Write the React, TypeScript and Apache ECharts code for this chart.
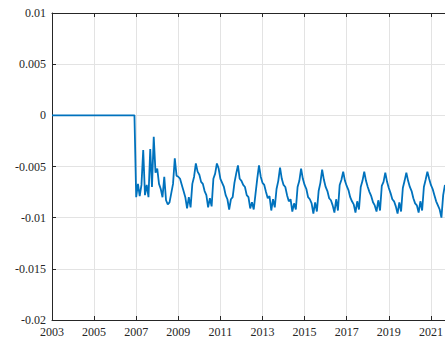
import React, { useEffect, useRef } from "react";
import * as echarts from "echarts";

const startYear = 2003;
const xTicks = [2003, 2005, 2007, 2009, 2011, 2013, 2015, 2017, 2019, 2021];
const yTicks = [-0.02, -0.015, -0.01, -0.005, 0, 0.005, 0.01];

// monthly values, Jan..Dec for each year
const v2003 = [0, 0, 0, 0, 0, 0, 0, 0, 0, 0, 0, 0];
const v2004 = [0, 0, 0, 0, 0, 0, 0, 0, 0, 0, 0, 0];
const v2005 = [0, 0, 0, 0, 0, 0, 0, 0, 0, 0, 0, 0];
const v2006 = [0, 0, 0, 0, 0, 0, 0, 0, 0, 0, 0, 0];
const v2007 = [-0.008, -0.0067, -0.0079, -0.0068, -0.0034, -0.0078, -0.0068, -0.008, -0.0033, -0.007, -0.0021, -0.0056];
const v2008 = [-0.0052, -0.0067, -0.0072, -0.008, -0.006, -0.0083, -0.0087, -0.0085, -0.0076, -0.0067, -0.0042, -0.0059];
const v2009 = [-0.006, -0.0062, -0.0068, -0.0074, -0.008, -0.0091, -0.008, -0.009, -0.0067, -0.006, -0.0047, -0.0055];
const v2010 = [-0.0058, -0.0065, -0.0067, -0.0074, -0.0078, -0.009, -0.0081, -0.0089, -0.0062, -0.0057, -0.0047, -0.0052];
const v2011 = [-0.0062, -0.0066, -0.007, -0.0078, -0.0082, -0.0092, -0.0082, -0.008, -0.0066, -0.0057, -0.0049, -0.0062];
const v2012 = [-0.0064, -0.0068, -0.007, -0.0078, -0.008, -0.0091, -0.0085, -0.0092, -0.0077, -0.0062, -0.0049, -0.006];
const v2013 = [-0.0066, -0.0068, -0.0075, -0.0081, -0.0079, -0.0093, -0.0082, -0.009, -0.0072, -0.0064, -0.0051, -0.0062];
const v2014 = [-0.0068, -0.007, -0.0078, -0.0084, -0.0082, -0.0094, -0.0086, -0.0092, -0.007, -0.0064, -0.0052, -0.0062];
const v2015 = [-0.0068, -0.0072, -0.008, -0.0082, -0.0086, -0.0096, -0.0085, -0.0094, -0.0074, -0.0066, -0.0053, -0.0063];
const v2016 = [-0.007, -0.0074, -0.0081, -0.0083, -0.0088, -0.0095, -0.0082, -0.0093, -0.0068, -0.0063, -0.0055, -0.0064];
const v2017 = [-0.0069, -0.0073, -0.008, -0.0084, -0.0087, -0.0095, -0.0084, -0.0092, -0.007, -0.0064, -0.0055, -0.0064];
const v2018 = [-0.007, -0.0075, -0.0079, -0.0085, -0.0088, -0.0094, -0.0083, -0.0093, -0.0069, -0.0065, -0.0056, -0.0065];
const v2019 = [-0.0071, -0.0076, -0.0082, -0.0084, -0.0089, -0.0096, -0.0085, -0.0094, -0.0071, -0.0064, -0.0056, -0.0064];
const v2020 = [-0.007, -0.0074, -0.0081, -0.0086, -0.0088, -0.0095, -0.0084, -0.0093, -0.007, -0.0063, -0.0055, -0.0062];
const v2021 = [-0.0068, -0.0072, -0.0078, -0.0084, -0.0088, -0.0092, -0.01, -0.0078, -0.0068];

const yearly = [v2003, v2004, v2005, v2006, v2007, v2008, v2009, v2010, v2011, v2012, v2013, v2014, v2015, v2016, v2017, v2018, v2019, v2020, v2021];

function buildSeries(): [number, number][] {
  const out: [number, number][] = [];
  yearly.forEach((vals, yi) => {
    vals.forEach((v, m) => {
      out.push([startYear + yi + m / 12, v]);
    });
  });
  return out;
}

const FONT = "Liberation Serif";
const AXIS = "#262626";
const GRID = "#e3e3e3";

export default function App() {
  const ref = useRef<HTMLDivElement>(null);
  useEffect(() => {
    if (!ref.current) return;
    const chart = echarts.init(ref.current, undefined, { renderer: "svg" });
    chart.setOption({
      animation: false,
      backgroundColor: "#ffffff",
      grid: { left: 52, top: 13, width: 421, height: 307 },
      xAxis: [
        {
          type: "value",
          min: 2003,
          max: 2023,
          interval: 2,
          position: "bottom",
          axisLine: { show: true, onZero: false, lineStyle: { color: AXIS, width: 1 } },
          axisTick: { show: true, inside: true, length: 4, lineStyle: { color: AXIS } },
          axisLabel: {
            show: true,
            margin: 6,
            color: AXIS,
            fontFamily: FONT,
            fontSize: 12,
            formatter: (v: number) => (xTicks.indexOf(v) >= 0 ? String(v) : ""),
          },
          splitLine: { show: true, lineStyle: { color: GRID, width: 1 } },
        },
        {
          type: "value",
          min: 2003,
          max: 2023,
          interval: 2,
          position: "top",
          axisLine: { show: true, onZero: false, lineStyle: { color: AXIS, width: 1 } },
          axisTick: { show: true, inside: true, length: 4, lineStyle: { color: AXIS } },
          axisLabel: { show: false },
          splitLine: { show: false },
        },
      ],
      yAxis: {
        type: "value",
        min: -0.02,
        max: 0.01,
        interval: 0.005,
        axisLine: { show: true, onZero: false, lineStyle: { color: AXIS, width: 1 } },
        axisTick: { show: true, inside: true, length: 4, lineStyle: { color: AXIS } },
        axisLabel: {
          margin: 6,
          color: AXIS,
          fontFamily: FONT,
          fontSize: 12,
          formatter: (v: number) => {
            const r = parseFloat(v.toFixed(4));
            const hit = yTicks.find((t) => Math.abs(t - r) < 1e-9);
            return hit === undefined ? "" : String(hit);
          },
        },
        splitLine: { show: true, lineStyle: { color: GRID, width: 1 } },
      },
      series: [
        {
          type: "line",
          xAxisIndex: 0,
          data: buildSeries(),
          showSymbol: false,
          symbol: "none",
          lineStyle: { color: "#0072BD", width: 1.8 },
          clip: true,
        },
      ],
    });
    return () => chart.dispose();
  }, []);
  return (
    <div style={{ position: "fixed", left: 0, top: 0, width: 445, height: 346, overflow: "hidden", background: "#fff" }}>
      <div ref={ref} style={{ width: 480, height: 346 }} />
    </div>
  );
}
